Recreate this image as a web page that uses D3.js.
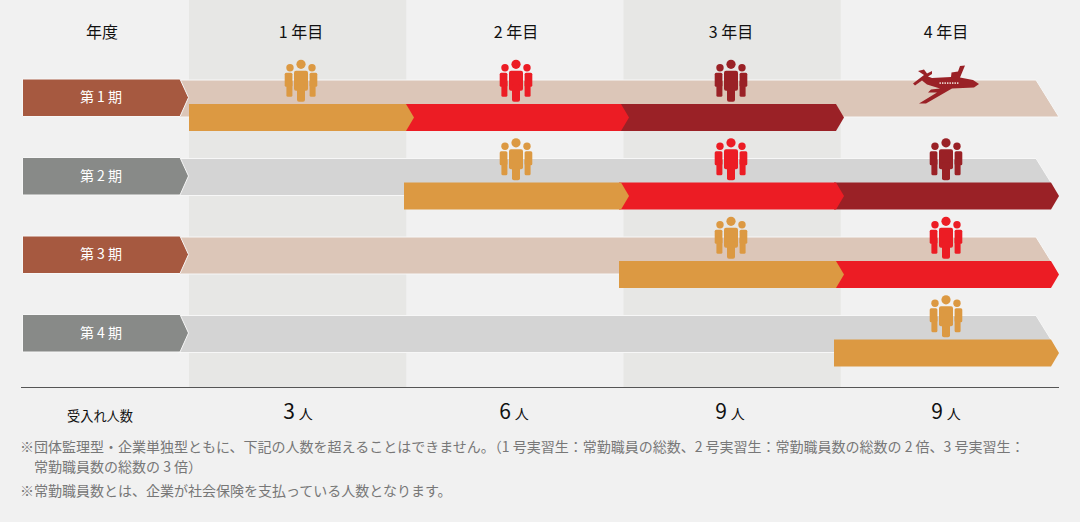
<!DOCTYPE html>
<html lang="ja">
<head>
    <meta charset="UTF-8">
    <title>受入れ人数</title>
    <style>
        html, body { margin: 0; padding: 0; background: #f1f1f1; }
        svg { display: block; }
        text { font-family: "Noto Sans CJK JP", sans-serif; }
    </style>
</head>
<body>
    <script src="https://d3js.org/d3.v7.min.js"></script>
    <script>
        const width = 1080;
        const height = 522;

        const years = ["1 年目", "2 年目", "3 年目", "4 年目"];
        const cohorts = ["第 1 期", "第 2 期", "第 3 期", "第 4 期"];
        const cohortStart = [0, 1, 2, 3];
        const cohortStages = [3, 3, 2, 1];
        const intake = [3, 6, 9, 9];
        const intakeUnit = "人";
        const planeCell = [0, 3];
        const notes = [
            "※団体監理型・企業単独型ともに、下記の人数を超えることはできません。（1 号実習生：常勤職員の総数、2 号実習生：常勤職員数の総数の 2 倍、3 号実習生：",
            "　常勤職員数の総数の 3 倍）",
            "※常勤職員数とは、企業が社会保険を支払っている人数となります。"
        ];
        const noteY = [452, 472, 496];
        const labelFill = ["#a65940", "#888a88", "#a65940", "#888a88"];
        const bandFill = ["#dcc6b8", "#d4d4d4", "#dcc6b8", "#d4d4d4"];
        const stageFill = ["#dc9942", "#ec1c24", "#9a2126"];

        const svg = d3.select("body").append("svg")
            .attr("width", width)
            .attr("height", height);

        const xCol = d3.scaleLinear().domain([0, 4]).range([189, 1058]);
        const xStage = d3.scaleLinear().domain([0, 4]).range([189, 1049]);
        const xMid = d3.scaleLinear().domain([0, 3]).range([301, 946]);
        const xIntake = d3.scaleLinear().domain([0, 3]).range([298, 946]);
        const yRow = d3.scaleLinear().domain([0, 3]).range([79, 314.5]);

        const poly = pts => d3.line()(pts) + "Z";

        // alternating column shading
        svg.selectAll(".col")
            .data(years.filter((d, i) => i % 2 === 0))
            .enter().append("rect")
            .attr("class", "col")
            .attr("x", (d, i) => xCol(i * 2))
            .attr("y", 0)
            .attr("width", (d, i) => xCol(i * 2 + 1) - xCol(i * 2))
            .attr("height", 388)
            .attr("fill", "#e7e7e5");

        // pale band behind each row
        svg.selectAll(".band")
            .data(cohorts)
            .enter().append("path")
            .attr("class", "band")
            .attr("d", (d, i) => {
                const y = yRow(i);
                return poly([[178, y + 1], [1036, y + 1], [1059, y + 38], [178, y + 38]]);
            })
            .attr("fill", (d, i) => bandFill[i])
            .attr("stroke", "#f7f7f7")
            .attr("stroke-width", 1);

        // cohort label arrows
        svg.selectAll(".label")
            .data(cohorts)
            .enter().append("path")
            .attr("class", "label")
            .attr("d", (d, i) => {
                const y = yRow(i);
                return poly([[22.5, y], [180, y], [188.5, y + 18.5], [180, y + 37.5], [22.5, y + 37.5]]);
            })
            .attr("fill", (d, i) => labelFill[i])
            .attr("stroke", "#f7f7f7")
            .attr("stroke-width", 1);

        svg.selectAll(".label-text")
            .data(cohorts)
            .enter().append("text")
            .attr("x", 101)
            .attr("y", (d, i) => yRow(i) + 23)
            .attr("text-anchor", "middle")
            .attr("font-size", 14)
            .attr("fill", "#fff")
            .text(d => d);

        // stage arrows, drawn last-to-first so each tip sits over the next bar
        cohorts.forEach((c, r) => {
            const stages = d3.range(cohortStages[r]).reverse();
            svg.selectAll(".stage-" + r)
                .data(stages)
                .enter().append("path")
                .attr("class", "stage-" + r)
                .attr("d", s => {
                    const x0 = xStage(cohortStart[r] + s);
                    const x1 = xStage(cohortStart[r] + s + 1) + 2;
                    const y = yRow(r) + 25;
                    return poly([[x0, y], [x1, y], [x1 + 8, y + 13.5], [x1, y + 27], [x0, y + 27]]);
                })
                .attr("fill", s => stageFill[s]);
        });

        const drawGroup = (cx, top, color) => {
            const g = svg.append("g")
                .attr("class", "people")
                .attr("transform", `translate(${cx},${top})`)
                .attr("fill", color);
            // side figures
            [-1, 1].forEach(side => {
                g.append("circle").attr("cx", side * 11).attr("cy", 7.8).attr("r", 3.7);
                g.append("rect")
                    .attr("x", side < 0 ? -16.3 : 8.6).attr("y", 12.8)
                    .attr("width", 7.7).attr("height", 14).attr("rx", 1.5);
                g.append("rect")
                    .attr("x", side < 0 ? -14.6 : 8.6).attr("y", 20)
                    .attr("width", 6).attr("height", 16.8).attr("rx", 1.5);
            });
            // middle figure
            g.append("circle").attr("cx", 0).attr("cy", 4.3).attr("r", 4.6);
            g.append("rect").attr("x", -7).attr("y", 10.8).attr("width", 14).attr("height", 20).attr("rx", 2);
            g.append("rect").attr("x", -4).attr("y", 24).attr("width", 8).attr("height", 17.8).attr("rx", 2);
        };

        const drawPlane = (cx, cy, color) => {
            const g = svg.append("g")
                .attr("transform", `translate(${cx},${cy})`)
                .attr("fill", color);
            // fuselage, tail and wings in icon coordinates
            g.append("path").attr("d",
                "M-33,-1 L-22,-9.5 L-28,-13.5 L-22,-15 L-19,-11 L-14,-13.5 L-14,-10.5 L-18,-8 L-14,-6.5 " +
                "L5,-7.5 L5.5,-12 L12,-13 L14,-18.5 L19,-19 L14,-7 L27,-4.5 L33,-0.5 L28,3 L6,4 " +
                "L-20,19 L-27,19 L-9,8 L-18,8 L-15,5 L-6,4 L-19,0 L-24,-4 L-31,1 Z");
            g.selectAll(".win").data(d3.range(8)).enter().append("rect")
                .attr("class", "win")
                .attr("x", d => -6.5 + d * 2.5)
                .attr("y", -2.2)
                .attr("width", 1.4)
                .attr("height", 1.6)
                .attr("fill", "#f0e4dc");
        };

        // one icon per cell: colour follows the stage reached in that year
        cohorts.forEach((c, r) => {
            d3.range(cohortStages[r] + (r === 0 ? 1 : 0)).forEach(s => {
                const col = cohortStart[r] + s;
                if (r === planeCell[0] && col === planeCell[1]) {
                    drawPlane(xMid(col), yRow(r) + 5.5, stageFill[2]);
                } else {
                    drawGroup(xMid(col), yRow(r) - 19, stageFill[s]);
                }
            });
        });

        // header row
        svg.append("text")
            .attr("x", 102).attr("y", 38)
            .attr("text-anchor", "middle")
            .attr("font-size", 16)
            .attr("fill", "#111")
            .text("年度");

        svg.selectAll(".year")
            .data(years)
            .enter().append("text")
            .attr("class", "year")
            .attr("x", (d, i) => xMid(i))
            .attr("y", 38)
            .attr("text-anchor", "middle")
            .attr("font-size", 16)
            .attr("fill", "#111")
            .text(d => d);

        // rule and intake row
        svg.append("line")
            .attr("x1", 21).attr("x2", 1059)
            .attr("y1", 387.5).attr("y2", 387.5)
            .attr("stroke", "#555")
            .attr("stroke-width", 1);

        svg.append("text")
            .attr("x", 100).attr("y", 421)
            .attr("text-anchor", "middle")
            .attr("font-size", 13.2)
            .attr("fill", "#111")
            .text("受入れ人数");

        const intakeText = svg.selectAll(".intake")
            .data(intake)
            .enter().append("text")
            .attr("class", "intake")
            .attr("x", (d, i) => xIntake(i))
            .attr("y", 419)
            .attr("text-anchor", "middle")
            .attr("fill", "#111");
        intakeText.append("tspan").attr("font-size", 21).text(d => d);
        intakeText.append("tspan").attr("font-size", 14).attr("dx", 4).text(intakeUnit);

        // footnotes
        svg.selectAll(".note")
            .data(notes)
            .enter().append("text")
            .attr("class", "note")
            .attr("x", 20)
            .attr("y", (d, i) => noteY[i])
            .attr("font-size", 14)
            .attr("fill", "#777")
            .text(d => d);
    </script>
</body>
</html>
